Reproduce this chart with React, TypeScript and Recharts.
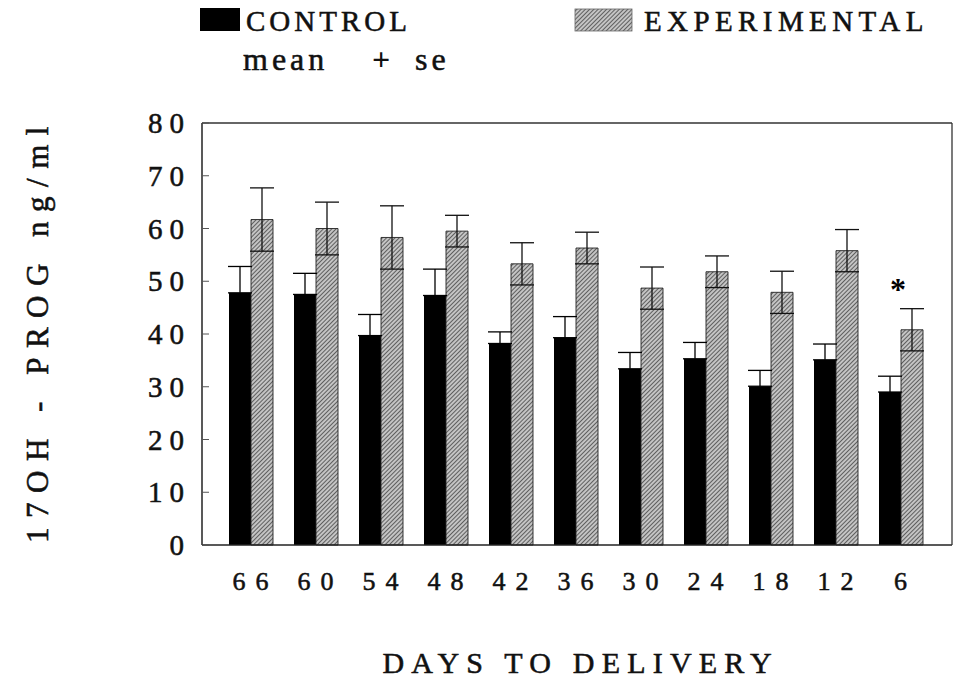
import React from 'react'
import { BarChart, Bar, XAxis, YAxis, ErrorBar, LabelList } from 'recharts'

const SERIF = 'Liberation Serif, DejaVu Serif, serif'

// days to delivery (categories)
const days = ['66', '60', '54', '48', '42', '36', '30', '24', '18', '12', '6']
// 17OH-progesterone, ng/ml
const controlMean = [47.8, 47.5, 39.7, 47.3, 38.2, 39.3, 33.4, 35.3, 30.1, 35.1, 29.0]
const controlSe = [5.0, 4.0, 4.0, 5.0, 2.2, 4.0, 3.1, 3.1, 3.0, 3.0, 3.0]
const expMean = [61.7, 60.0, 58.3, 59.5, 53.3, 56.3, 48.7, 51.8, 47.9, 55.8, 40.8]
const expSe = [6.0, 5.0, 6.0, 3.0, 4.0, 3.0, 4.0, 3.0, 4.0, 4.0, 4.0]
const marks = ['', '', '', '', '', '', '', '', '', '', '*']
const yTicks = [0, 10, 20, 30, 40, 50, 60, 70, 80]

const data = days.map((d, i) => ({
  day: d,
  control: controlMean[i],
  controlErr: [0, controlSe[i]],
  exp: expMean[i],
  expErr: [expSe[i], expSe[i]],
  mark: marks[i],
}))

// scanned-print look: thin stroke thickens the glyphs a little
const ink = { fill: '#111', stroke: '#111', strokeWidth: 0.55, style: { fontFamily: SERIF } }

const YTick = (props: any) => {
  const { x, y, payload } = props
  return (
    <g>
      <line x1={x} y1={y} x2={x + 7} y2={y} stroke="#555" strokeWidth={1} />
      <text x={x - 11} y={y} dy={10} textAnchor="end" fontSize={29} letterSpacing={7} {...ink}>
        {payload.value}
      </text>
    </g>
  )
}

const XTick = (props: any) => {
  const { x, y, payload } = props
  return (
    <text x={x + 5} y={y + 45} textAnchor="middle" fontSize={26} letterSpacing={10} {...ink}>
      {payload.value}
    </text>
  )
}

const Star = (props: any) => {
  const { x, y, width, value } = props
  if (!value) return null
  return (
    <text x={x + width / 2 - 14} y={y - 30} textAnchor="middle" fontSize={32} fontWeight="bold" fill="#000" style={{ fontFamily: SERIF }}>
      {value}
    </text>
  )
}

const Hatch = ({ id }: { id: string }) => (
  <pattern id={id} patternUnits="userSpaceOnUse" width={3} height={3} patternTransform="rotate(45)">
    <rect width={3} height={3} fill="#c4c4c4" />
    <line x1={0} y1={0} x2={0} y2={3} stroke="#333" strokeWidth={1.4} />
  </pattern>
)

const Overlay = () => (
  <svg width={956} height={679} style={{ position: 'absolute', left: 0, top: 0, pointerEvents: 'none' }}>
    <defs>
      <Hatch id="hatchLegend" />
    </defs>
    <rect x={200} y={8} width={40} height={23} fill="#000" />
    <text x={246} y={31} fontSize={29} letterSpacing={4} {...ink}>CONTROL</text>
    <rect x={575} y={9} width={57} height={22} fill="url(#hatchLegend)" stroke="#666" strokeWidth={0.8} />
    <text x={644} y={31} fontSize={29} letterSpacing={5.4} {...ink}>EXPERIMENTAL</text>
    <text x={243} y={70} fontSize={32} letterSpacing={4} {...ink}>mean</text>
    <text x={381} y={70} textAnchor="middle" fontSize={32} fontWeight="bold" fill="#111" style={{ fontFamily: SERIF }}>+</text>
    <text x={415} y={70} fontSize={32} letterSpacing={4} {...ink}>se</text>
    <text
      x={48}
      y={335}
      dx={5}
      textAnchor="middle"
      fontSize={31}
      letterSpacing={9.5}
      transform="rotate(-90, 48, 335)"
      {...ink}
    >
      17OH - PROG ng/ml
    </text>
    <text x={577} y={673} dx={3.6} textAnchor="middle" fontSize={30} letterSpacing={7.2} {...ink}>
      DAYS TO DELIVERY
    </text>
  </svg>
)

export default function App() {
  return (
    <div style={{ position: 'absolute', left: 0, top: 0, width: 956, height: 679, background: '#fff', fontFamily: SERIF }}>
      <BarChart
        width={956}
        height={679}
        data={data}
        margin={{ top: 122, right: 3, bottom: 0, left: 0 }}
        barSize={22}
        barGap={0}
      >
        <defs>
          <Hatch id="hatch" />
        </defs>
        <XAxis
          dataKey="day"
          height={134}
          interval={0}
          padding={{ left: 16, right: 19 }}
          tickLine={false}
          tickSize={0}
          tickMargin={0}
          tick={<XTick />}
          axisLine={{ stroke: '#222', strokeWidth: 1.5 }}
        />
        <XAxis
          xAxisId="top"
          orientation="top"
          dataKey="day"
          height={1}
          tick={false}
          tickLine={false}
          axisLine={{ stroke: '#333', strokeWidth: 1.3 }}
        />
        <YAxis
          width={202}
          domain={[0, 80]}
          ticks={yTicks}
          interval={0}
          tickLine={false}
          tickSize={0}
          tickMargin={0}
          tick={<YTick />}
          axisLine={{ stroke: '#222', strokeWidth: 1.5 }}
        />
        <YAxis
          yAxisId="right"
          orientation="right"
          width={1}
          domain={[0, 80]}
          tick={false}
          tickLine={false}
          axisLine={{ stroke: '#333', strokeWidth: 1.3 }}
        />
        <Bar dataKey="control" fill="#000" isAnimationActive={false}>
          <ErrorBar dataKey="controlErr" width={12} stroke="#000" strokeWidth={1.3} />
        </Bar>
        <Bar dataKey="exp" fill="url(#hatch)" stroke="#222" strokeWidth={0.9} isAnimationActive={false}>
          <ErrorBar dataKey="expErr" width={12} stroke="#111" strokeWidth={1.3} />
          <LabelList dataKey="mark" content={<Star />} />
        </Bar>
      </BarChart>
      <Overlay />
    </div>
  )
}
